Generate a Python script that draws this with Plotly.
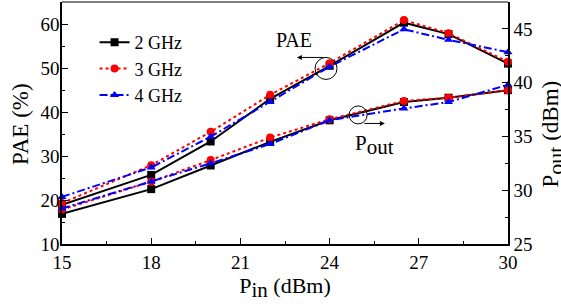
import plotly.graph_objects as go

pin = [15, 18, 20, 22, 24, 26.5, 28, 30]
pae_2g = [18.9, 25.7, 33.3, 43.0, 50.5, 60.3, 57.7, 51.0]
pae_3g = [19.3, 27.9, 35.5, 43.9, 51.1, 60.9, 57.9, 51.4]
pae_4g = [20.7, 27.4, 34.4, 42.3, 50.3, 58.8, 56.4, 53.6]
pout_2g = [27.8, 30.1, 32.3, 34.5, 36.5, 38.2, 38.6, 39.3]
pout_3g = [28.2, 30.8, 32.8, 34.9, 36.6, 38.3, 38.6, 39.3]
pout_4g = [28.3, 30.8, 32.5, 34.3, 36.5, 37.6, 38.2, 39.8]

names = ["2 GHz", "3 GHz", "4 GHz"]
colors = ["black", "red", "blue"]
dashes = ["solid", "dot", "8px,3px,2px,3px"]
symbols = ["square", "circle", "triangle-up"]
pae = [pae_2g, pae_3g, pae_4g]
pout = [pout_2g, pout_3g, pout_4g]

FONT = "Liberation Serif, Times New Roman, serif"
fig = go.Figure()
for i in range(3):
    fig.add_trace(go.Scatter(
        x=pin, y=pae[i], name=names[i], legendgroup=names[i], mode="lines+markers",
        line=dict(color=colors[i], dash=dashes[i], width=2),
        marker=dict(symbol=symbols[i], size=8, color=colors[i]), cliponaxis=False))
for i in range(3):
    fig.add_trace(go.Scatter(
        x=pin, y=pout[i], name=names[i], legendgroup=names[i], showlegend=False,
        mode="lines+markers", yaxis="y2",
        line=dict(color=colors[i], dash=dashes[i], width=2),
        marker=dict(symbol=symbols[i], size=8, color=colors[i]), cliponaxis=False))

axis_common = dict(showgrid=False, zeroline=False, showline=True, linecolor="black",
                   linewidth=1.5, ticks="inside", ticklen=6, tickcolor="black",
                   tickfont=dict(family=FONT, size=19, color="black"))

fig.update_layout(
    width=561, height=308,
    margin=dict(l=62, r=53, t=2, b=64, autoexpand=False),
    paper_bgcolor="white", plot_bgcolor="white",
    font=dict(family=FONT, size=19, color="black"),
    xaxis=dict(range=[15, 30], tick0=15, dtick=3,
               minor=dict(dtick=1.5, ticks="inside", ticklen=3, tickcolor="black"),
               title=dict(text="P<sub><span style='font-size:21px'>in</span></sub> (dBm)",
                          font=dict(family=FONT, size=22), standoff=4),
               **axis_common),
    yaxis=dict(range=[10, 65], tick0=10, dtick=10, ticklabelstandoff=-3,
               minor=dict(dtick=5, ticks="inside", ticklen=3, tickcolor="black"),
               **axis_common),
    yaxis2=dict(range=[25, 47.5], tick0=25, dtick=5, overlaying="y", side="right",
                minor=dict(dtick=2.5, ticks="inside", ticklen=3, tickcolor="black"),
                **axis_common),
    legend=dict(x=0.073, y=0.909, xanchor="left", yanchor="top", bgcolor="rgba(0,0,0,0)",
                font=dict(family=FONT, size=18), tracegroupgap=0),
    showlegend=True,
)

# axis titles as annotations (placed like the reference)
fig.add_annotation(x=-0.092, y=0.496, xref="paper", yref="paper", text="PAE (%)",
                   xanchor="center", yanchor="middle",
                   textangle=-90, showarrow=False, font=dict(family=FONT, size=23))
fig.add_annotation(x=1.1, y=0.455, xref="paper", yref="paper",
                   text="P<sub><span style='font-size:22px'>out</span></sub> (dBm)",
                   xanchor="center", yanchor="middle",
                   textangle=-90, showarrow=False, font=dict(family=FONT, size=23))

fig.add_shape(type="line", xref="paper", yref="paper", x0=0, x1=1, y0=1, y1=1,
              line=dict(color="gray", width=2))
fig.add_shape(type="circle", xref="x", yref="y", xsizemode="pixel", ysizemode="pixel",
              xanchor=23.88, yanchor=49.9, x0=-11, x1=11, y0=-11, y1=11,
              line=dict(color="black", width=1))
fig.add_shape(type="circle", xref="x", yref="y2", xsizemode="pixel", ysizemode="pixel",
              xanchor=24.96, yanchor=37.0, x0=-9, x1=9, y0=-9, y1=9,
              line=dict(color="black", width=1))

fig.add_annotation(x=22.8, y=56.4, xref="x", yref="y", text="PAE", showarrow=False,
                   font=dict(family=FONT, size=20))
fig.add_annotation(x=22.9, y=52.4, xref="x", yref="y", ax=28, ay=0, text="",
                   showarrow=True, arrowhead=2, arrowsize=1, arrowwidth=1, arrowcolor="black")
fig.add_annotation(x=25.5, y=32.5, xref="x", yref="y",
                   text="P<sub><span style='font-size:21px'>out</span></sub>", showarrow=False,
                   font=dict(family=FONT, size=21))
fig.add_annotation(x=25.86, y=37.4, xref="x", yref="y", ax=-22, ay=0, text="",
                   showarrow=True, arrowhead=2, arrowsize=1, arrowwidth=1, arrowcolor="black")

fig.write_html("out.html", config={"displayModeBar": False},
               post_script="document.body.style.margin='0';")
